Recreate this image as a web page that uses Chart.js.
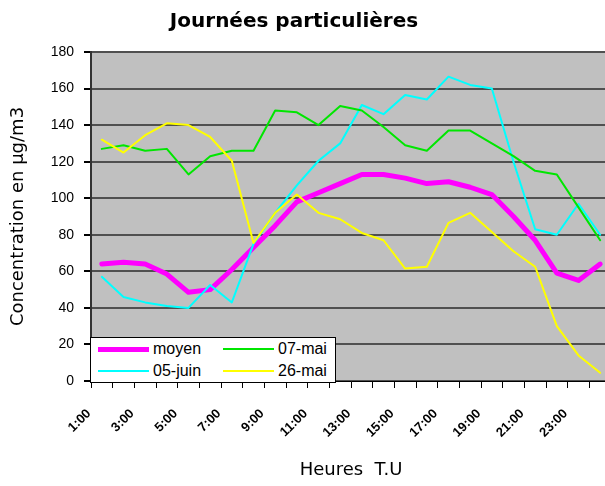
<!DOCTYPE html>
<html>
<head>
<meta charset="utf-8">
<script src="https://cdn.jsdelivr.net/npm/chart.js@4/dist/chart.umd.min.js"></script>
<style>
  html, body { margin: 0; padding: 0; background: #fff; overflow: hidden; }
  #wrap { position: relative; width: 615px; height: 486px; }
  #legend {
    position: absolute; left: 90px; top: 337px; width: 244px; height: 44px;
    background: #fff; border: 1px solid #000; font: 16px "Liberation Sans", Arial, sans-serif;
  }
  #legend .item { position: absolute; height: 20px; line-height: 20px; }
  #legend .swatch { position: absolute; top: 10px; width: 51px; }
  #legend .txt { position: absolute; white-space: nowrap; }
</style>
</head>
<body>
<div id="wrap">
  <canvas id="chart" width="615" height="486"></canvas>
  <div id="legend"></div>
</div>
<script>
const hours = ['1:00','2:00','3:00','4:00','5:00','6:00','7:00','8:00','9:00','10:00','11:00','12:00',
               '13:00','14:00','15:00','16:00','17:00','18:00','19:00','20:00','21:00','22:00','23:00','24:00'];

const moyen = [64, 65, 64, 58.5, 48.5, 50, 61, 73, 85, 98, 103, 108, 113, 113, 111, 108, 109, 106, 102, 90, 77, 59, 55, 64];
const mai07 = [127, 129, 126, 127, 113, 123, 126, 126, 148, 147, 140, 150.5, 148, 139, 129, 126, 137, 137, 130, 123, 115, 113, 95, 77];
const juin05 = [57, 46, 43, 41, 40, 52.5, 43, 75, 92, 107, 120.5, 130, 151, 146, 156.5, 154, 166.5, 162, 160, 120, 83, 80, 97, 80];
const mai26 = [132, 125, 134.5, 141, 140, 133.5, 120.5, 75.5, 92, 102, 92, 88.5, 81, 77, 61.5, 62.5, 86.5, 92, 81.5, 71, 62.5, 30, 14, 4.5];

const yTicks = [0, 20, 40, 60, 80, 100, 120, 140, 160, 180];

// gray plot background + title drawn where the original has it
const plotBg = {
    id: 'plotBg',
    beforeDraw(chart) {
        const { ctx, chartArea: a } = chart;
        ctx.save();
        ctx.fillStyle = '#c0c0c0';
        ctx.fillRect(a.left, a.top, a.right - a.left, a.bottom - a.top);
        ctx.restore();
    },
    afterDraw(chart) {
        const ctx = chart.ctx;
        ctx.save();
        ctx.font = 'bold 20px "DejaVu Sans", sans-serif';
        ctx.fillStyle = '#000';
        ctx.textAlign = 'center';
        ctx.textBaseline = 'middle';
        ctx.fillText('Journées particulières', 294, 22);
        ctx.restore();
    }
};

const sets = [
    { label: 'moyen', data: moyen, borderColor: '#ff00ff', borderWidth: 5, order: 4 },
    { label: '05-juin', data: juin05, borderColor: '#00ffff', borderWidth: 2, order: 3 },
    { label: '07-mai', data: mai07, borderColor: '#00e600', borderWidth: 2, order: 2 },
    { label: '26-mai', data: mai26, borderColor: '#ffff00', borderWidth: 2, order: 1 }
];

new Chart(document.getElementById('chart'), {
    type: 'line',
    data: {
        labels: hours,
        datasets: sets.map(s => ({
            ...s, pointRadius: 0, tension: 0, fill: false,
            borderJoinStyle: 'round', borderCapStyle: 'round'
        }))
    },
    options: {
        responsive: false,
        animation: false,
        layout: { padding: { top: 52, right: 4, left: 0, bottom: 0 } },
        plugins: { legend: { display: false }, title: { display: false }, tooltip: { enabled: false } },
        scales: {
            x: {
                offset: true,
                grid: { offset: true, drawOnChartArea: false, drawTicks: true, tickLength: 7, tickColor: '#000' },
                border: { color: '#000', width: 1 },
                ticks: {
                    autoSkip: false, maxRotation: 45, minRotation: 45, padding: 18, labelOffset: -13,
                    color: '#000', font: { family: '"Liberation Sans", Arial, sans-serif', size: 13, weight: 'bold' },
                    callback: function(v, i) { return i % 2 === 0 ? this.getLabelForValue(v) : ''; }
                },
                title: {
                    display: true, text: 'Heures  T.U', color: '#000',
                    font: { family: '"DejaVu Sans", sans-serif', size: 18 }, padding: { top: 0, bottom: 5 }
                },
                afterFit(scale) {
                    scale.height = 105;
                    scale.paddingLeft = 0;
                    scale.paddingRight = 0;
                }
            },
            y: {
                min: 0, max: 180,
                afterBuildTicks(scale) { scale.ticks = yTicks.map(v => ({ value: v })); },
                grid: { color: '#505050', lineWidth: 2, tickLength: 7, tickColor: '#000' },
                border: { color: '#333', width: 2 },
                ticks: {
                    padding: 10, color: '#000',
                    font: { family: '"Liberation Sans", Arial, sans-serif', size: 14 }
                },
                title: {
                    display: true, text: 'Concentration en µg/m3', color: '#000',
                    font: { family: '"DejaVu Sans", sans-serif', size: 18 }, padding: { top: 8, bottom: 0 }
                },
                afterFit(scale) { scale.width = 91; }
            }
        }
    },
    plugins: [plotBg]
});

// legend box, laid out like the original (2 columns)
const legendPos = [
    { s: sets[0], x: 7, y: 1 },
    { s: sets[2], x: 132, y: 1 },
    { s: sets[1], x: 7, y: 23 },
    { s: sets[3], x: 132, y: 23 }
];
const legend = document.getElementById('legend');
legendPos.forEach(p => {
    const it = document.createElement('div');
    it.className = 'item';
    it.style.left = p.x + 'px';
    it.style.top = p.y + 'px';
    it.innerHTML = `<div class="swatch" style="border-top:${p.s.borderWidth}px solid ${p.s.borderColor};margin-top:-${p.s.borderWidth / 2}px"></div>` +
                   `<div class="txt" style="left:55px">${p.s.label}</div>`;
    legend.appendChild(it);
});
</script>
</body>
</html>
